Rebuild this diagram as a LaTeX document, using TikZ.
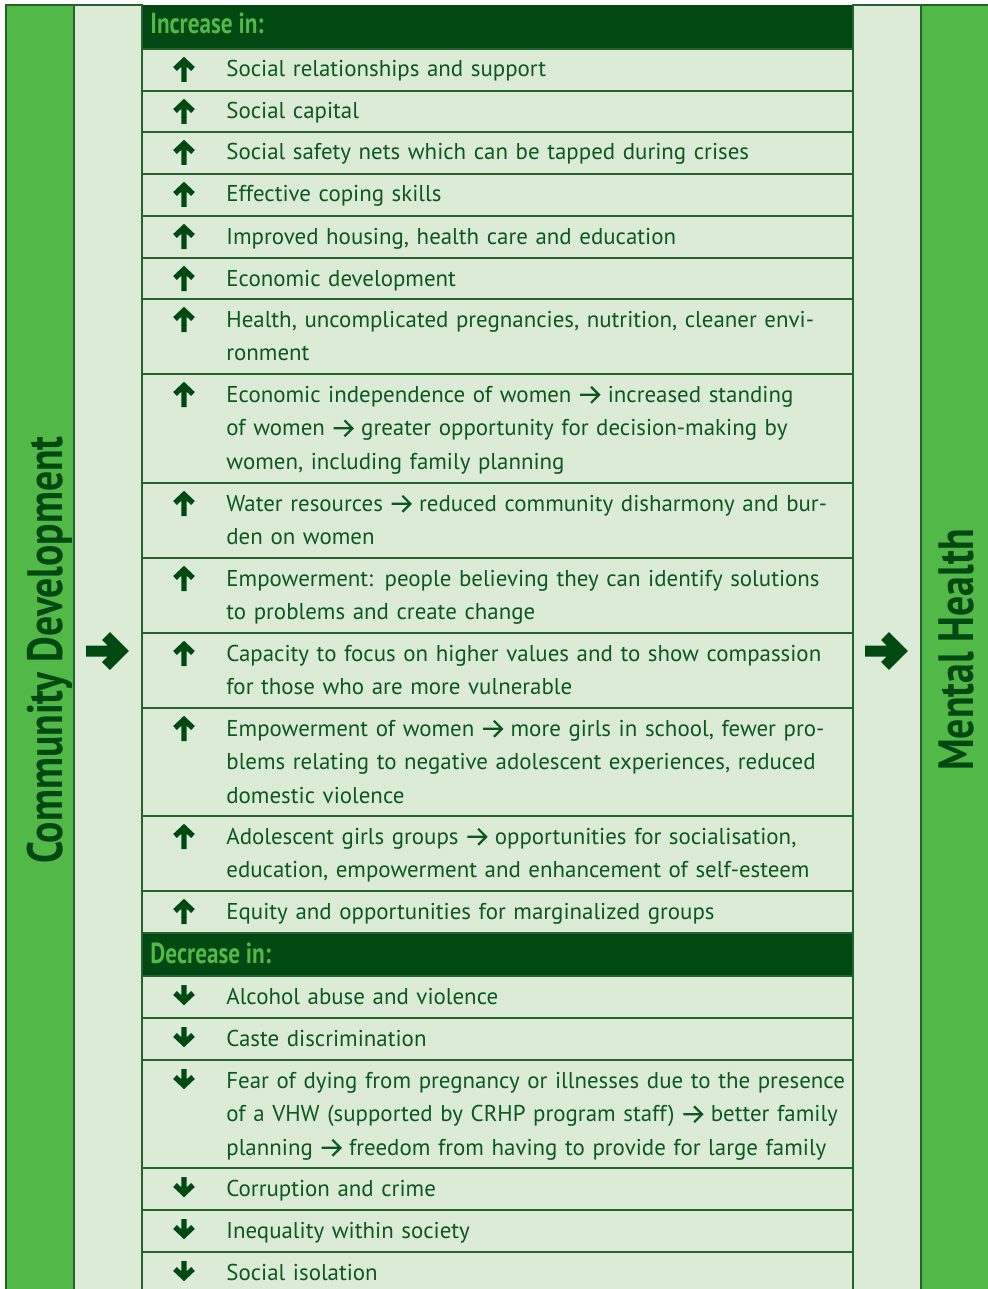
\documentclass[tikz,border=0pt]{standalone}
\usepackage{fontspec}
\setmainfont{PT Sans}
\newfontfamily\condfont[FakeStretch=0.80]{PT Sans}

\definecolor{barg}{RGB}{82,184,72}
\definecolor{paleg}{RGB}{220,235,214}
\definecolor{bandg}{RGB}{0,73,18}
\definecolor{inkg}{RGB}{12,88,32}
\definecolor{ruleg}{RGB}{38,98,48}

% small arrow used inside the row texts
\newcommand{\ra}{\tikz[baseline=0pt]{\draw[inkg,line width=1.1pt,line join=miter]
    (0pt,3.6pt) -- (9.4pt,3.6pt) (5.4pt,7.6pt) -- (9.4pt,3.6pt) -- (5.4pt,-0.4pt);}}

\tikzset{
  colrule/.style={draw=ruleg,line width=1pt},
  rowrule/.style={draw=ruleg,line width=1pt},
  item/.style={anchor=base west,inner sep=0pt,text width=400pt,align=left,
    text=inkg,font=\fontsize{11.45}{16.75}\selectfont},
  heading/.style={anchor=base west,inner sep=0pt,text=barg,
    font=\condfont\bfseries\fontsize{14.5}{16}\selectfont},
  sidetitle/.style={anchor=base,rotate=90,inner sep=0pt,text=bandg,
    font=\condfont\bfseries\fontsize{24.8}{28}\selectfont},
  iconline/.style={draw=bandg,line width=2.7pt,line join=miter},
  bigarrow/.style={draw=bandg,line width=5.5pt,line join=miter},
  upmark/.pic={\draw[iconline] (0,33) -- (0,12) (-9,20) -- (0,11.5) -- (9,20);},
  downmark/.pic={\draw[iconline] (0,9) -- (0,25) (-9,17) -- (0,25.5) -- (9,17);}
}

\begin{document}
\begin{tikzpicture}[x=0.5pt,y=-0.5pt]
\useasboundingbox (0,0) rectangle (988,1289);

% side columns
\draw[colrule,fill=barg] (6,5) rectangle (74,1300);
\draw[colrule,fill=paleg] (74,5) rectangle (142,1300);
\draw[colrule,fill=paleg] (853,5) rectangle (921,1300);
\draw[colrule,fill=barg] (921,5) rectangle (995,1300);

% table
\fill[paleg] (142,49) rectangle (853,1300);
\fill[bandg] (142,5) rectangle (853,49);
\fill[bandg] (142,933) rectangle (853,976);
\foreach \y in {49,91,132,174,216,258,299,374,483,558,633,708,816,891,933,976,1018,1060,1168,1210,1252}
  \draw[rowrule] (142,\y) -- (853,\y);
\draw[rowrule] (142,5) -- (142,1300);
\draw[rowrule] (853,5) -- (853,1300);

\node[sidetitle] (lefttitle) at (62,650) {Community Development};
\node[sidetitle] (righttitle) at (973,650) {Mental Health};

\draw[bigarrow] (86,651) -- (119,651) (106,636) -- (121,651) -- (106,666);
\draw[bigarrow] (865,651) -- (898,651) (885,636) -- (900,651) -- (885,666);

\node[heading] (hdinc) at (150,34) {Increase in:};
\node[heading] (hddec) at (150,963) {Decrease in:};

% increase rows
\foreach \t in {49,91,132,174,216,258,299,374,483,558,633,708,816,891}
  \pic at (184,\t) {upmark};
\node[item] (row1) at (226,77) {Social relationships and support};
\node[item] (row2) at (226,119) {Social capital};
\node[item] (row3) at (226,160) {Social safety nets which can be tapped during crises};
\node[item] (row4) at (226,202) {Effective coping skills};
\node[item] (row5) at (226,244) {Improved housing, health care and education};
\node[item] (row6) at (226,286) {Economic development};
\node[item] (row7) at (226,327) {Health, uncomplicated pregnancies, nutrition, cleaner envi-\\ronment};
\node[item] (row8) at (226,402) {Economic independence of women \ra{} increased standing\\of women \ra{} greater opportunity for decision-making by\\women, including family planning};
\node[item] (row9) at (226,511) {Water resources \ra{} reduced community disharmony and bur-\\den on women};
\node[item] (row10) at (226,586) {Empowerment: people believing they can identify solutions\\to problems and create change};
\node[item] (row11) at (226,661) {Capacity to focus on higher values and to show compassion\\for those who are more vulnerable};
\node[item] (row12) at (226,736) {Empowerment of women \ra{} more girls in school, fewer pro-\\blems relating to negative adolescent experiences, reduced\\domestic violence};
\node[item] (row13) at (226,844) {Adolescent girls groups \ra{} opportunities for socialisation,\\education, empowerment and enhancement of self-esteem};
\node[item] (row14) at (226,919) {Equity and opportunities for marginalized groups};

% decrease rows
\foreach \t in {976,1018,1060,1168,1210,1252}
  \pic at (184,\t) {downmark};
\node[item] (row15) at (226,1004) {Alcohol abuse and violence};
\node[item] (row16) at (226,1046) {Caste discrimination};
\node[item] (row17) at (226,1088) {Fear of dying from pregnancy or illnesses due to the presence\\of a VHW (supported by CRHP program staff) \ra{} better family\\planning \ra{} freedom from having to provide for large family};
\node[item] (row18) at (226,1196) {Corruption and crime};
\node[item] (row19) at (226,1238) {Inequality within society};
\node[item] (row20) at (226,1280) {Social isolation};
\end{tikzpicture}
\end{document}
